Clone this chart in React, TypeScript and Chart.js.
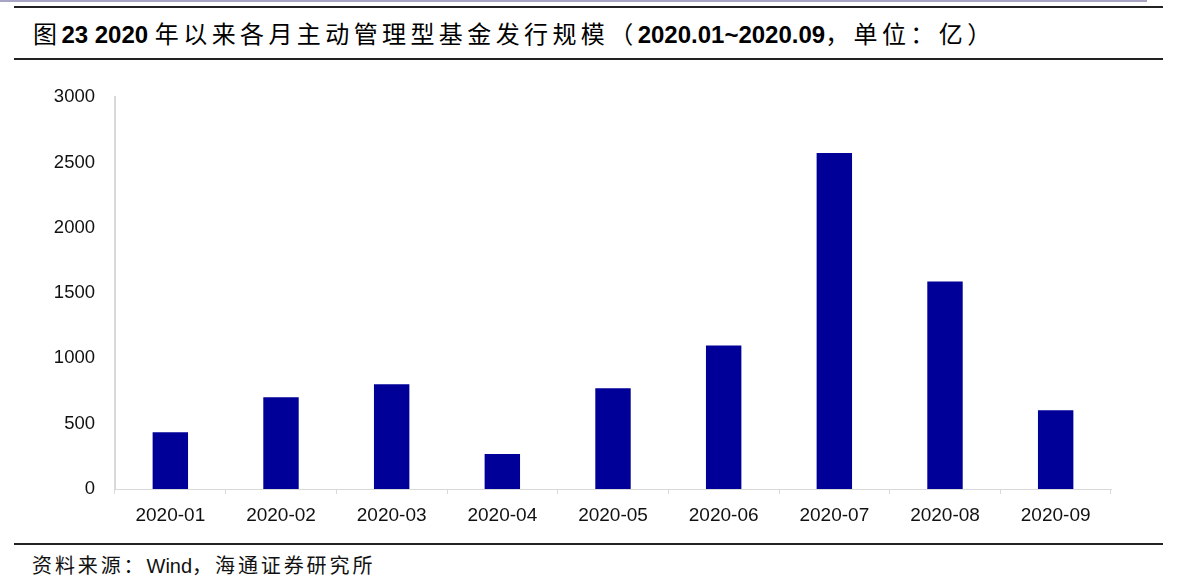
import React, { useEffect, useRef } from "react";
import { Chart, registerables } from "chart.js";

Chart.register(...registerables);

const categories = ["2020-01", "2020-02", "2020-03", "2020-04", "2020-05", "2020-06", "2020-07", "2020-08", "2020-09"];
const issuance = [435, 702, 802, 267, 771, 1099, 2573, 1588, 603];
const yTicks = [0, 500, 1000, 1500, 2000, 2500, 3000];

const titleParts: [string, boolean][] = [
  ["图", false],
  ["23 2020 ", true],
  ["年以来各月主动管理型基金发行规模（", false],
  ["2020.01~2020.09", true],
  ["，单位：亿）", false],
];
const sourceParts: [string, boolean][] = [
  ["资料来源：", false],
  ["Wind", true],
  ["，海通证券研究所", false],
];

export default function App() {
  const ref = useRef<HTMLCanvasElement | null>(null);

  useEffect(() => {
    document.body.style.margin = "0";
    const ctx = ref.current!;
    const chart = new Chart(ctx, {
      type: "bar",
      data: {
        labels: categories,
        datasets: [
          {
            data: issuance,
            backgroundColor: "#000099",
            borderWidth: 0,
            barPercentage: 0.32,
            categoryPercentage: 1,
          },
        ],
      },
      options: {
        animation: false,
        responsive: false,
        maintainAspectRatio: false,
        layout: { padding: { top: 10, right: 67, left: 0, bottom: 0 } },
        plugins: { legend: { display: false }, tooltip: { enabled: false }, title: { display: false } },
        scales: {
          x: {
            grid: { display: true, drawOnChartArea: false, drawTicks: true, tickLength: 5, color: "#d9d9d9", offset: true },
            border: { display: true, color: "#d9d9d9", width: 1 },
            ticks: {
              color: "#111",
              font: { family: "'Liberation Sans', Arial, sans-serif", size: 19 },
              padding: 10,
              maxRotation: 0,
              autoSkip: false,
            },
            afterFit: (s: any) => {
              s.height = 40;
            },
          },
          y: {
            min: 0,
            max: 3000,
            afterBuildTicks: (s: any) => {
              s.ticks = yTicks.map((v) => ({ value: v }));
            },
            grid: { display: false, drawTicks: false },
            border: { display: true, color: "#d9d9d9", width: 2 },
            ticks: {
              color: "#111",
              font: { family: "'Liberation Sans', Arial, sans-serif", size: 18.5 },
              padding: 20,
              callback: (v: any) => String(v),
            },
            afterFit: (s: any) => {
              s.width = 115;
            },
          },
        },
      },
    });
    return () => chart.destroy();
  }, []);

  return (
    <div style={{ position: "relative", width: 1178, height: 584, background: "#fff", overflow: "hidden" }}>
      <div style={{ position: "absolute", left: 0, top: 0, width: 1147, height: 2, background: "#a8a4c4" }} />
      <div style={{ position: "absolute", left: 14, top: 6, width: 1149, height: 2, background: "#222" }} />
      <div
        style={{
          position: "absolute",
          left: 33,
          top: 17,
          height: 32,
          lineHeight: "32px",
          fontSize: 24,
          color: "#000",
          whiteSpace: "nowrap",
        }}
      >
        {titleParts.map(([t, b], i) => (
          <span
            key={i}
            style={{
              fontFamily: b ? "'Liberation Sans', Arial, sans-serif" : "'Noto Sans CJK SC', sans-serif",
              fontWeight: b ? 700 : 400,
              letterSpacing: b ? 0 : 4.4,
            }}
          >
            {t}
          </span>
        ))}
      </div>
      <div style={{ position: "absolute", left: 14, top: 58, width: 1149, height: 2, background: "#222" }} />
      <canvas ref={ref} width={1178} height={463} style={{ position: "absolute", left: 0, top: 66, width: 1178, height: 463 }} />
      <div style={{ position: "absolute", left: 14, top: 543, width: 1149, height: 2, background: "#222" }} />
      <div
        style={{
          position: "absolute",
          left: 32,
          top: 551,
          height: 28,
          lineHeight: "28px",
          fontSize: 20,
          color: "#111",
          whiteSpace: "nowrap",
        }}
      >
        {sourceParts.map(([t, latin], i) => (
          <span
            key={i}
            style={{
              fontFamily: latin ? "'Liberation Sans', Arial, sans-serif" : "'Noto Sans CJK SC', sans-serif",
              letterSpacing: latin ? 0 : 2.9,
            }}
          >
            {t}
          </span>
        ))}
      </div>
    </div>
  );
}
